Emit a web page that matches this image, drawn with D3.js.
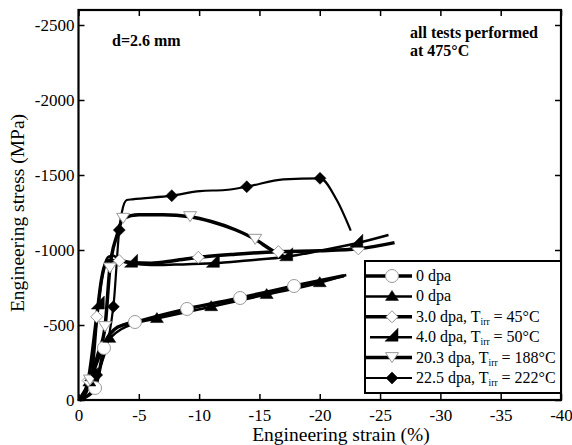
<!DOCTYPE html>
<html>
<head>
<meta charset="utf-8">
<script src="https://cdn.jsdelivr.net/npm/d3@7"></script>
<style>
    body { margin: 0; background: #fff; }
    svg text { font-family: "Liberation Serif", "Times New Roman", serif; }
</style>
</head>
<body>
<div id="chart"></div>
<script>
// curves: [strain %, stress MPa]
const curve0a = [[-0.1,0],[-0.8,-30],[-1.37,-80],[-1.8,-220],[-2.11,-347],[-2.5,-425],[-3.0,-472],[-3.8,-502],[-4.68,-520],[-9.0,-607],[-13.4,-680],[-17.87,-760],[-22.0,-828]];
const marks0a = [[-1.37,-80],[-2.11,-347],[-4.68,-520],[-9.0,-607],[-13.4,-680],[-17.87,-760]];

const curve0b = [[-0.2,0],[-1.0,-130],[-1.8,-300],[-2.3,-385],[-2.7,-420],[-3.5,-470],[-4.5,-505],[-6.5,-543],[-11.0,-622],[-15.6,-703],[-20.0,-782],[-22.2,-833]];
const marks0b = [[-0.9,-120],[-2.55,-411],[-6.5,-543],[-11.0,-622],[-15.6,-703],[-20.0,-782]];

const curve3 = [[-0.1,0],[-0.8,-130],[-1.51,-555],[-1.9,-800],[-2.2,-900],[-2.6,-930],[-3.38,-929],[-4.5,-915],[-6,-912],[-8,-930],[-9.93,-951],[-13,-972],[-16.57,-989],[-20,-995],[-23.2,-1008],[-26.2,-1049]];
const marks3 = [[-0.8,-130],[-1.51,-555],[-3.38,-929],[-9.93,-951],[-16.57,-989],[-23.2,-1008]];

const curve4 = [[-0.2,0],[-1.09,-155],[-1.64,-633],[-2.1,-880],[-2.5,-955],[-2.9,-962],[-3.4,-930],[-4.4,-912],[-6,-900],[-8,-903],[-11.18,-911],[-14,-930],[-17.26,-955],[-20,-995],[-23.07,-1045],[-25.7,-1100]];
const marks4 = [[-1.09,-155],[-1.64,-633],[-4.4,-912],[-11.18,-911],[-17.26,-955],[-23.07,-1045]];

const curve20 = [[-0.3,0],[-0.95,-133],[-1.6,-300],[-2.2,-489],[-2.6,-880],[-3.2,-1100],[-3.7,-1211],[-5,-1235],[-7,-1235],[-9.25,-1222],[-11,-1190],[-13,-1135],[-14.65,-1071],[-16,-1000],[-17.2,-950]];
const marks20 = [[-0.95,-133],[-2.2,-489],[-2.6,-880],[-3.7,-1211],[-9.25,-1222],[-14.65,-1071]];

const curve22 = [[0,0],[-0.8,-100],[-1.51,-167],[-2.89,-622],[-3.38,-1133],[-3.6,-1253],[-4.0,-1333],[-4.46,-1338],[-7.73,-1362],[-10.07,-1393],[-12.15,-1400],[-13.95,-1422],[-16.98,-1471],[-20.02,-1478],[-21.41,-1333],[-22.57,-1129]];
const marks22 = [[-1.51,-167],[-2.89,-622],[-3.38,-1133],[-7.73,-1362],[-13.95,-1422],[-20.02,-1478]];

const xTicks = [0,-5,-10,-15,-20,-25,-30,-35,-40];
const yTicks = [0,-500,-1000,-1500,-2000,-2500];
const legendLabels = [
    ["0 dpa", null, null],
    ["0 dpa", null, null],
    ["3.0 dpa, T", "irr", " = 45°C"],
    ["4.0 dpa, T", "irr", " = 50°C"],
    ["20.3 dpa, T", "irr", " = 188°C"],
    ["22.5 dpa, T", "irr", " = 222°C"]
];

const W = 572, H = 445;
const plotL = 78.5, plotR = 561, plotT = 10, plotB = 400;
const serif = "'Liberation Serif', 'Times New Roman', serif";

var x = d3.scaleLinear().domain([0, -40]).range([plotL, plotR]);
var y = d3.scaleLinear().domain([0, -2600]).range([plotB, plotT]);

var svg = d3.select("#chart").append("svg")
    .attr("width", W).attr("height", H);

// marker shapes
var shapes = {
    circle: "M6.5,0A6.5,6.5,0,1,1,-6.5,0A6.5,6.5,0,1,1,6.5,0Z",
    tri: "M0,-6L6.5,4L-6.5,4Z",
    diamond: "M0,-6L6,0L0,6L-6,0Z",
    half: "M-7,4L6,4L6,-9Z",
    tdown: "M-6.5,-5L6.5,-5L0,5Z"
};

var series = [
    {data: curve0a, marks: marks0a, shape: "circle", fill: "#fff", width: 3.5},
    {data: curve0b, marks: marks0b, shape: "tri", fill: "#000", width: 2.5},
    {data: curve3, marks: marks3, shape: "diamond", fill: "#fff", width: 3.5},
    {data: curve4, marks: marks4, shape: "half", fill: "#000", width: 2.5},
    {data: curve20, marks: marks20, shape: "tdown", fill: "#fff", width: 3.5},
    {data: curve22, marks: marks22, shape: "diamond", fill: "#000", width: 2.2}
];

var line = d3.line()
    .x(function(d) { return x(d[0]); })
    .y(function(d) { return y(d[1]); })
    .curve(d3.curveMonotoneX);

var plot = svg.append("g");

series.forEach(function(s) {
    plot.append("path")
        .attr("d", line(s.data))
        .attr("fill", "none")
        .attr("stroke", "#000")
        .attr("stroke-width", s.width)
        .attr("stroke-linejoin", "round");
});

series.forEach(function(s) {
    plot.selectAll(null)
        .data(s.marks)
        .enter().append("path")
        .attr("d", shapes[s.shape])
        .attr("transform", function(d) { return `translate(${x(d[0])},${y(d[1])})`; })
        .attr("fill", s.fill)
        .attr("stroke", s.fill === "#fff" ? "#999" : "#000")
        .attr("stroke-width", s.fill === "#fff" ? 1 : 0.5);
});

// axes, ticks inside on all four sides
var fmt = function(d) { return String(d); };   // plain hyphen like the original
svg.append("g")
    .attr("transform", `translate(0,${plotB})`)
    .call(d3.axisBottom(x).tickValues(xTicks).tickSizeInner(-6).tickSizeOuter(0).tickPadding(9).tickFormat(fmt));
svg.append("g")
    .attr("transform", `translate(0,${plotT})`)
    .call(d3.axisTop(x).tickValues(xTicks).tickSizeInner(-6).tickSizeOuter(0).tickFormat(""));
svg.append("g")
    .attr("transform", `translate(${plotL},0)`)
    .call(d3.axisLeft(y).tickValues(yTicks).tickSizeInner(-6).tickSizeOuter(0).tickPadding(4).tickFormat(fmt));
svg.append("g")
    .attr("transform", `translate(${plotR},0)`)
    .call(d3.axisRight(y).tickValues(yTicks).tickSizeInner(-6).tickSizeOuter(0).tickFormat(""));

svg.selectAll(".domain").remove();
svg.selectAll(".tick line").attr("stroke", "#000").attr("stroke-width", 1.5);
svg.selectAll(".tick text")
    .style("font-family", serif)
    .style("font-size", "17px")
    .attr("fill", "#000");

svg.append("rect")
    .attr("x", plotL).attr("y", plotT)
    .attr("width", plotR - plotL).attr("height", plotB - plotT)
    .attr("fill", "none").attr("stroke", "#000").attr("stroke-width", 2.2);

// titles
svg.append("text")
    .attr("x", 341).attr("y", 441)
    .attr("text-anchor", "middle").style("font-size", "19.5px")
    .text("Engineering strain (%)");
svg.append("text")
    .attr("transform", "translate(24,213) rotate(-90)")
    .attr("text-anchor", "middle").style("font-size", "19.5px")
    .text("Engineering stress (MPa)");

svg.append("text")
    .attr("x", 112).attr("y", 46)
    .style("font-size", "16px").attr("font-weight", "bold")
    .text("d=2.6 mm");
svg.append("text")
    .attr("x", 410).attr("y", 38)
    .style("font-size", "16px").attr("font-weight", "bold")
    .text("all tests performed");
svg.append("text")
    .attr("x", 410).attr("y", 56)
    .style("font-size", "16px").attr("font-weight", "bold")
    .text("at 475°C");

// legend
var lg = svg.append("g");
lg.append("rect")
    .attr("x", 365).attr("y", 261)
    .attr("width", plotR - 365).attr("height", 132)
    .attr("fill", "#fff").attr("stroke", "#000").attr("stroke-width", 2);

var rowY = d3.scaleLinear().domain([0, 5]).range([276, 378]);

series.forEach(function(s, i) {
    var ly = rowY(i);
    lg.append("line")
        .attr("x1", s.shape === "half" ? 370 : 366).attr("x2", 412)
        .attr("y1", ly).attr("y2", ly)
        .attr("stroke", "#000").attr("stroke-width", s.width);
    lg.append("path")
        .attr("d", shapes[s.shape])
        .attr("transform", `translate(392,${ly})`)
        .attr("fill", s.fill)
        .attr("stroke", s.fill === "#fff" ? "#999" : "#000")
        .attr("stroke-width", s.fill === "#fff" ? 1 : 0.5);
    var lab = legendLabels[i];
    var t = lg.append("text")
        .attr("x", 416).attr("y", ly + 5)
        .style("font-size", "16px")
        .text(lab[0]);
    if (lab[1]) {
        t.append("tspan").style("font-size", "9.5px").attr("dy", 3).text(lab[1]);
        t.append("tspan").attr("dy", -3).text(lab[2]);
    }
});
</script>
</body>
</html>
